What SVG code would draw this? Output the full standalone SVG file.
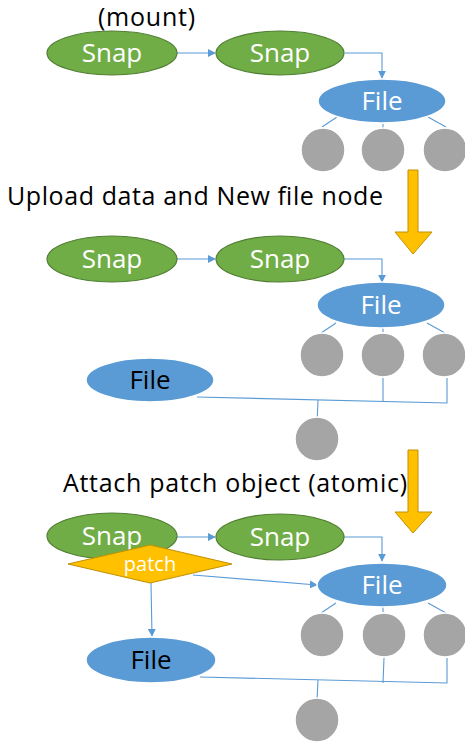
<svg xmlns="http://www.w3.org/2000/svg" width="465" height="744" viewBox="0 0 465 744">
<style>
.t{font-family:"Open Sans","Liberation Sans",sans-serif;}
.title{font-size:25px;fill:#000;}
.snap ellipse{fill:#70AD47;stroke:#507E32;stroke-width:1.2;}
.file ellipse{fill:#5B9BD5;stroke:#fff;stroke-width:1.5;}
.leaf circle{fill:#A5A5A5;stroke:#fff;stroke-width:1.5;}
.lbl{font-size:26px;fill:#fff;text-anchor:middle;}
.blk{fill:#000;}
.conn{fill:none;stroke:#5B9BD5;stroke-width:1.1;}
.yarrow{fill:#FFC000;stroke:#BF9000;stroke-width:1;}
</style>
<defs>
<marker id="ah" viewBox="0 0 10 10" refX="9" refY="5" markerWidth="8" markerHeight="8" markerUnits="userSpaceOnUse" orient="auto">
<path d="M0,0 L10,5 L0,10 z" fill="#5B9BD5"/>
</marker>
</defs>

<!-- titles -->
<text class="t title" x="98" y="26" textLength="97">(mount)</text>
<text class="t title" x="7" y="205" textLength="376">Upload data and New file node</text>
<text class="t title" x="63" y="492" textLength="344">Attach patch object (atomic)</text>

<!-- yellow arrows -->
<path id="yarrow1" class="yarrow" d="M408,170 L418,170 L418,232 L432,232 L413,254 L395,232 L408,232 Z"/>
<path id="yarrow2" class="yarrow" d="M408,450 L418,450 L418,512 L432,512 L413,533 L395,512 L408,512 Z"/>

<g id="connectors">
<!-- section 1 -->
<line class="conn" x1="177" y1="53" x2="215" y2="53" marker-end="url(#ah)"/>
<polyline class="conn" points="345,53 382,53 382,78" marker-end="url(#ah)"/>
<line class="conn" x1="337" y1="117" x2="322" y2="127"/>
<line class="conn" x1="383" y1="124" x2="383" y2="128"/>
<line class="conn" x1="428" y1="117" x2="446" y2="127"/>
<!-- section 2 -->
<line class="conn" x1="177" y1="259" x2="215" y2="259" marker-end="url(#ah)"/>
<polyline class="conn" points="344,259 382,259 382,282" marker-end="url(#ah)"/>
<line class="conn" x1="336" y1="323" x2="321" y2="333"/>
<line class="conn" x1="383" y1="328" x2="383" y2="332"/>
<line class="conn" x1="427" y1="323" x2="445" y2="333"/>
<polyline class="conn" points="197,397 447,403 447,378"/>
<line class="conn" x1="383" y1="378" x2="383" y2="402"/>
<line class="conn" x1="318" y1="400" x2="317" y2="424"/>
<!-- section 3 -->
<line class="conn" x1="176" y1="537" x2="215" y2="537" marker-end="url(#ah)"/>
<polyline class="conn" points="344,537 382,537 382,561" marker-end="url(#ah)"/>
<line class="conn" x1="193" y1="575" x2="317" y2="585" marker-end="url(#ah)"/>
<line class="conn" x1="151" y1="583" x2="152" y2="636" marker-end="url(#ah)"/>
<line class="conn" x1="336" y1="603" x2="321" y2="613"/>
<line class="conn" x1="383" y1="607" x2="383" y2="612"/>
<line class="conn" x1="428" y1="603" x2="446" y2="613"/>
<polyline class="conn" points="200,677 447,683 447,658"/>
<line class="conn" x1="384" y1="658" x2="383" y2="683"/>
<line class="conn" x1="318" y1="680" x2="317" y2="700"/>
</g>

<!-- section 1 nodes -->
<g id="snap1a" class="snap"><ellipse cx="112" cy="53" rx="65" ry="22"/><text class="t lbl" x="112" y="62">Snap</text></g>
<g id="snap2a" class="snap"><ellipse cx="280" cy="53" rx="64" ry="22"/><text class="t lbl" x="280" y="62">Snap</text></g>
<g id="file1a" class="file"><ellipse cx="382" cy="101" rx="64" ry="22"/><text class="t lbl" x="382" y="110">File</text></g>
<g id="leaf1a" class="leaf"><circle cx="323" cy="150" r="22"/></g>
<g id="leaf1b" class="leaf"><circle cx="383" cy="150" r="22"/></g>
<g id="leaf1c" class="leaf"><circle cx="445" cy="150" r="22"/></g>

<!-- section 2 nodes -->
<g id="snap1b" class="snap"><ellipse cx="112" cy="259" rx="65" ry="23"/><text class="t lbl" x="112" y="268">Snap</text></g>
<g id="snap2b" class="snap"><ellipse cx="280" cy="259" rx="64" ry="23"/><text class="t lbl" x="280" y="268">Snap</text></g>
<g id="file2a" class="file"><ellipse cx="381" cy="305" rx="64" ry="23"/><text class="t lbl" x="381" y="314">File</text></g>
<g id="leaf2a" class="leaf"><circle cx="322" cy="355" r="22"/></g>
<g id="leaf2b" class="leaf"><circle cx="383" cy="355" r="22"/></g>
<g id="leaf2c" class="leaf"><circle cx="444" cy="355" r="22"/></g>
<g id="file2b" class="file"><ellipse cx="150" cy="380" rx="64" ry="22"/><text class="t lbl blk" x="150" y="389">File</text></g>
<g id="leaf2d" class="leaf"><circle cx="317" cy="439" r="22"/></g>

<!-- section 3 nodes -->
<g id="snap1c" class="snap"><ellipse cx="112" cy="536" rx="65" ry="23"/><text class="t lbl" x="112" y="545">Snap</text></g>
<g id="snap2c" class="snap"><ellipse cx="280" cy="537" rx="64" ry="23"/><text class="t lbl" x="280" y="546">Snap</text></g>
<g id="patch"><polygon points="68,564 150,545 232,564 150,583" fill="#FFC000" stroke="#BF9000" stroke-width="1"/><text class="t" x="150" y="571" font-size="20" fill="#fff" text-anchor="middle">patch</text></g>
<g id="file3a" class="file"><ellipse cx="382" cy="585" rx="65" ry="22"/><text class="t lbl" x="382" y="594">File</text></g>
<g id="leaf3a" class="leaf"><circle cx="322" cy="635" r="22"/></g>
<g id="leaf3b" class="leaf"><circle cx="384" cy="635" r="22"/></g>
<g id="leaf3c" class="leaf"><circle cx="445" cy="635" r="22"/></g>
<g id="file3b" class="file"><ellipse cx="151" cy="660" rx="65" ry="23"/><text class="t lbl blk" x="151" y="669">File</text></g>
<g id="leaf3d" class="leaf"><circle cx="317" cy="720" r="22"/></g>
</svg>
